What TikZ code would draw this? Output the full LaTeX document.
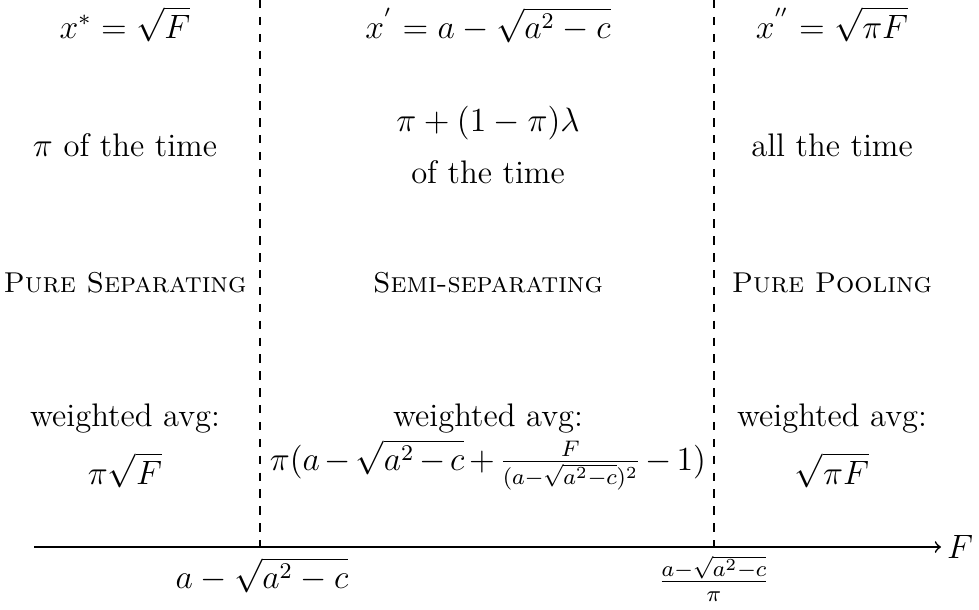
\documentclass[tikz,border=0pt]{standalone}
\usepackage{amsmath}
\begin{document}
\begin{tikzpicture}[x=0.0125cm,y=-0.0125cm,
  lbl/.style={font=\fontsize{11.6}{14}\selectfont, inner sep=0pt, anchor=base},
  sclbl/.style={font=\fontsize{10.2}{12}\selectfont, inner sep=0pt, anchor=base},
  divider/.style={dashed, line width=0.5pt},
  axisline/.style={->, line width=0.6pt}]
\useasboundingbox (0,0) rectangle (979,609);
% dividers and axis
\coordinate (d1top) at (260,0);
\coordinate (d1bot) at (260,547);
\coordinate (d2top) at (714,0);
\coordinate (d2bot) at (714,547);
\coordinate (axL) at (34,547);
\coordinate (axR) at (941,547);
\draw[divider] (d1top) -- (d1bot);
\draw[divider] (d2top) -- (d2bot);
\draw[axisline] (axL) -- (axR);
\node[lbl, anchor=west, inner sep=2pt] (F) at (axR) {$F$};
% axis labels
\node[lbl] (t1) at (262,588) {$a-\sqrt{a^2-c}$};
\node[lbl] (t2) at (714,590) {$\frac{a-\sqrt{a^2-c}}{\pi}$};
% row 1
\node[lbl] (l1) at (125,38) {$x^* = \sqrt{F}$};
\node[lbl] (m1) at (488,38) {$x^{'} = a - \sqrt{a^2-c}$};
\node[lbl] (r1) at (832,38) {$x^{''} = \sqrt{\pi F}$};
% row 2
\node[lbl] (l2) at (125,156) {$\pi$ of the time};
\node[lbl] (m2a) at (488,131) {$\pi + (1-\pi)\lambda$};
\node[lbl] (m2b) at (488,183) {of the time};
\node[lbl] (r2) at (832,156) {all the time};
% row 3
\node[sclbl] (l3) at (125,292) {\textsc{Pure Separating}};
\node[sclbl] (m3) at (488,292) {\textsc{Semi-separating}};
\node[sclbl] (r3) at (832,292) {\textsc{Pure Pooling}};
% row 4
\node[lbl] (l4a) at (125,426) {weighted avg:};
\node[lbl] (l4b) at (125,484) {$\pi\sqrt{F}$};
\node[lbl] (m4a) at (488,426) {weighted avg:};
\node[lbl] (m4b) at (488,470) {$\medmuskip=2.5mu \pi(a-\sqrt{a^2-c}+\frac{F}{(a-\sqrt{a^2-c})^2}-1)$};
\node[lbl] (r4a) at (832,426) {weighted avg:};
\node[lbl] (r4b) at (832,484) {$\sqrt{\pi F}$};
\end{tikzpicture}
\end{document}
